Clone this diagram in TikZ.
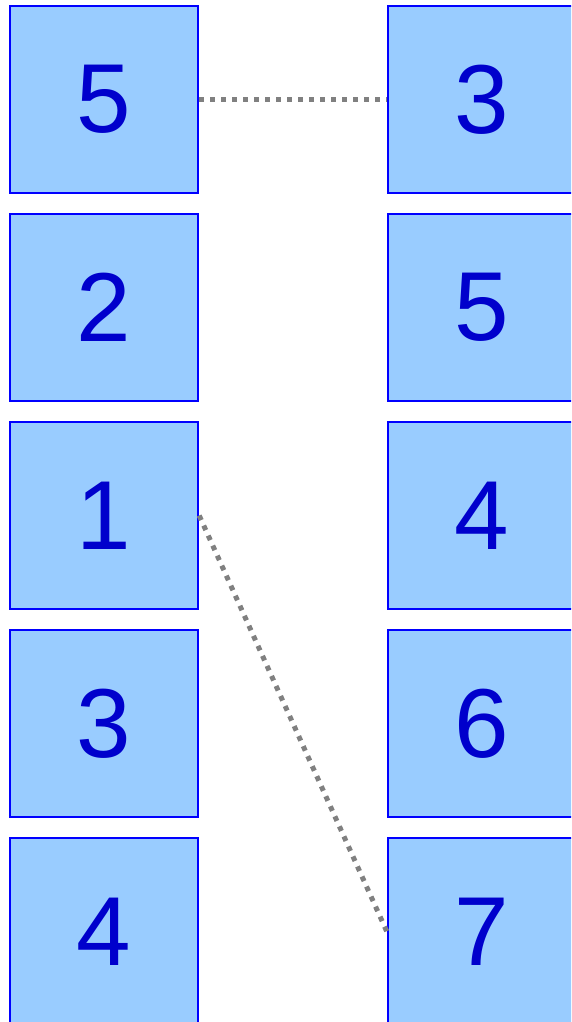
\documentclass[tikz,border=0pt]{standalone}
\usepackage{fontspec}
\setmainfont{Liberation Sans}
\definecolor{boxfill}{HTML}{99CCFF}
\definecolor{boxline}{HTML}{0000FF}
\definecolor{boxtext}{HTML}{0000CC}
\definecolor{linkgray}{HTML}{808080}
\begin{document}
\begin{tikzpicture}[x=1pt,y=-1pt,
  cell/.style={draw=boxline, fill=boxfill, line width=2.4pt, minimum width=188pt, minimum height=187pt, inner sep=0pt, text=boxtext, font=\fontsize{98}{98}\selectfont},
  link/.style={draw=linkgray, line width=5pt, dash pattern=on 5pt off 6pt}]
\useasboundingbox (0,0) rectangle (571,1022);
\clip (0,0) rectangle (571,1022);
\node[cell] (l1) at (104,99.5) {5};
\node[cell] (l2) at (104,307.5) {2};
\node[cell] (l3) at (104,515.5) {1};
\node[cell] (l4) at (104,723.5) {3};
\node[cell] (l5) at (104,931.5) {4};
\node[cell] (r1) at (482,99.5) {3};
\node[cell] (r2) at (482,307.5) {5};
\node[cell] (r3) at (482,515.5) {4};
\node[cell] (r4) at (482,723.5) {6};
\node[cell] (r5) at (482,931.5) {7};
\draw[link] (l1.east) -- (r1.west);
\draw[link] (l3.east) -- (r5.west);
\end{tikzpicture}
\end{document}
